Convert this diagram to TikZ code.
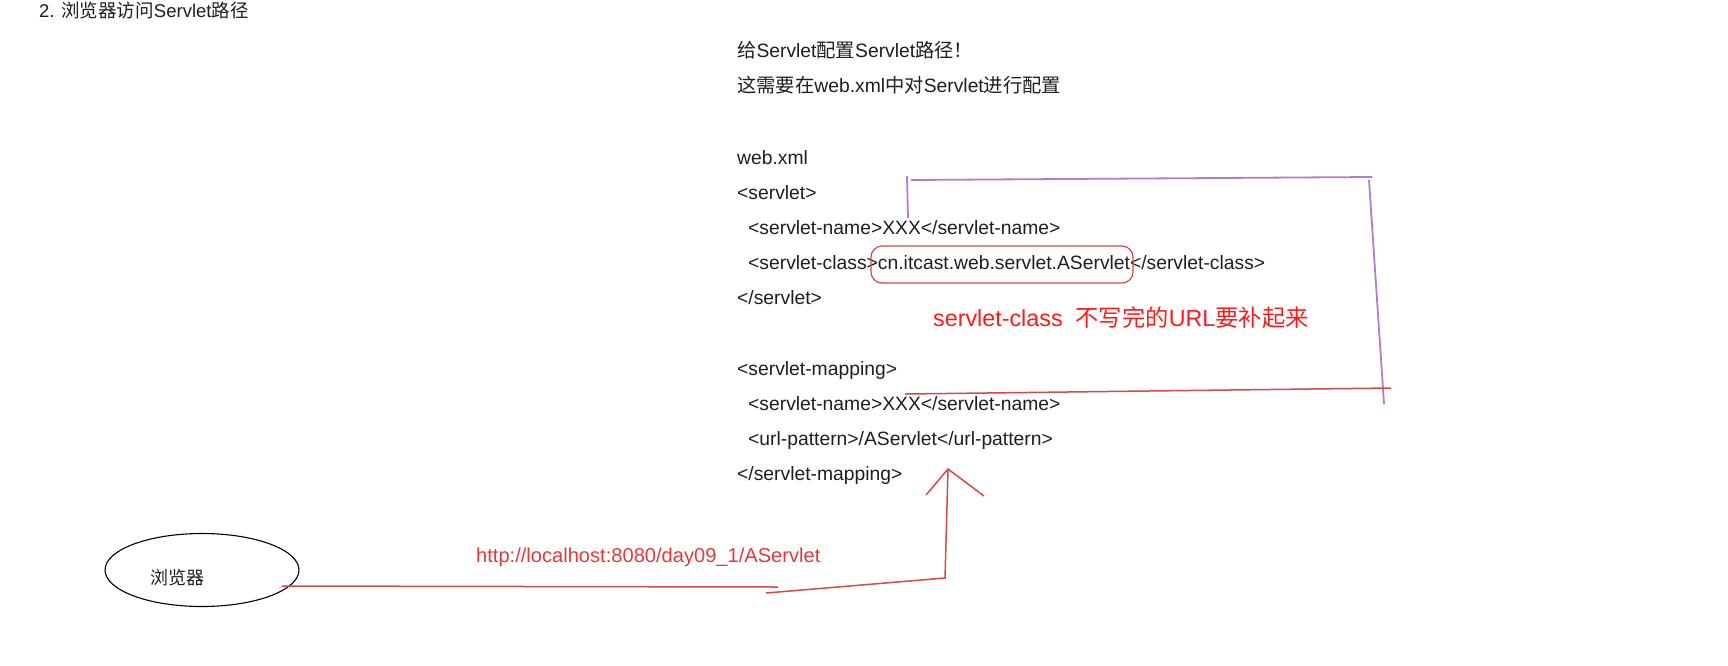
\documentclass[tikz,border=0pt]{standalone}
\usepackage{fontspec}
\usetikzlibrary{shapes.geometric}
\setmainfont{Liberation Sans}
\newfontfamily\cjk{Noto Sans CJK SC}
\definecolor{txt}{HTML}{1E1E1E}
\definecolor{redtxt}{HTML}{FF1A1A}
\definecolor{urlred}{HTML}{E23A3A}
\definecolor{redline}{HTML}{D94848}
\definecolor{purp}{HTML}{B27CC8}
\definecolor{ovalred}{HTML}{D04848}
\tikzset{
  titletxt/.style={anchor=west, inner sep=0pt, text=txt, font=\fontsize{18.5}{22}\selectfont, text height=13pt, text depth=4pt},
  codeline/.style={anchor=west, inner sep=0pt, text=txt, font=\fontsize{19.3}{23}\selectfont, text height=13.5pt, text depth=4pt},
  notetxt/.style={anchor=west, inner sep=0pt, text=redtxt, font=\fontsize{23.3}{27}\selectfont},
  urltxt/.style={anchor=west, inner sep=0pt, text=urlred, font=\fontsize{20.1}{24}\selectfont},
  purpline/.style={draw=purp, line width=1.8pt},
  redpath/.style={draw=redline, line width=1.5pt},
}
\begin{document}
\begin{tikzpicture}[x=1pt,y=-1pt]
\useasboundingbox (0,0) rectangle (1728,665);
% title
\node[titletxt] (title) at (39,13) {2. {\cjk 浏览器访问}Servlet{\cjk 路径}};
% right text block
\node[codeline] (l1) at (737,53) {{\cjk 给}Servlet{\cjk 配置}Servlet{\cjk 路径！}};
\node[codeline] (l2) at (737,88) {{\cjk 这需要在}web.xml{\cjk 中对}Servlet{\cjk 进行配置}};
\node[codeline] (l3) at (737,160) {web.xml};
\node[codeline] (l4) at (737,195) {<servlet>};
\node[codeline] (l5) at (748,230) {<servlet-name>XXX</servlet-name>};
\node[codeline] (l6) at (748,265) {<servlet-class>cn.itcast.web.servlet.AServlet</servlet-class>};
\node[codeline] (l7) at (737,300) {</servlet>};
\node[notetxt] (note) at (933,318) {servlet-class\ \ {\cjk 不写完的}URL{\cjk 要补起来}};
\node[codeline] (l8) at (737,371) {<servlet-mapping>};
\node[codeline] (l9) at (748,406) {<servlet-name>XXX</servlet-name>};
\node[codeline] (l10) at (748,441) {<url-pattern>/AServlet</url-pattern>};
\node[codeline] (l11) at (737,476) {</servlet-mapping>};
% red rounded oval around class name
\draw[draw=ovalred, line width=1.2pt, rounded corners=11pt] (871,246) rectangle (1133,283);
% purple bracket
\coordinate (p1) at (907,176);
\coordinate (p2) at (908,218);
\coordinate (p3) at (911,180);
\coordinate (p4) at (1372,177);
\coordinate (p5) at (1369,180);
\coordinate (p6) at (1384,404);
\draw[purpline] (p1) -- (p2);
\draw[purpline] (p3) -- (p4);
\draw[purpline] (p5) -- (p6);
% red horizontal line
\coordinate (r1) at (905,394);
\coordinate (r2) at (1391,388);
\draw[redpath] (r1) -- (r2);
% browser
\node[draw=black, line width=1.1pt, ellipse, minimum width=194pt, minimum height=73pt, inner sep=0pt] (browser) at (202,570) {};
\node[anchor=center, inner sep=0pt, text=txt, font=\fontsize{18}{22}\selectfont\cjk] (blabel) at (177,578) {浏览器};
% url label
\node[urltxt] (url) at (476,557) {http://localhost:8080/day09\_1/AServlet};
% connector browser -> url-pattern
\coordinate (c0) at (282,586);
\coordinate (c1) at (778,587);
\coordinate (c2) at (766,593);
\coordinate (c3) at (945,578);
\coordinate (apex) at (948,469);
\coordinate (hl) at (926,495);
\coordinate (hr) at (984,496);
\draw[redpath] (c0) -- (c1);
\draw[redpath] (c2) -- (c3) -- (apex);
\draw[redpath] (hl) -- (apex) -- (hr);
\end{tikzpicture}
\end{document}
